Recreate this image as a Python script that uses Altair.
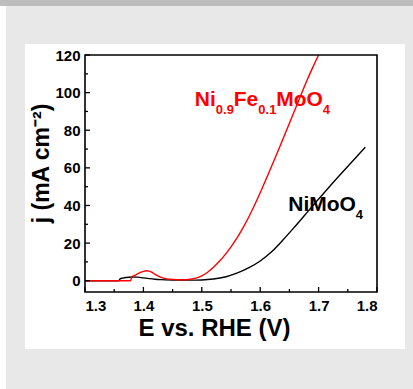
import altair as alt
import pandas as pd

# ---- data ----
E_black = [1.30, 1.358, 1.360, 1.365, 1.37, 1.38, 1.39, 1.40, 1.41, 1.42, 1.43, 1.45, 1.48,
           1.50, 1.52, 1.54, 1.56, 1.58, 1.60, 1.62, 1.64, 1.66, 1.68, 1.70, 1.72, 1.74,
           1.76, 1.78]
j_black = [0, 0, 1.0, 1.4, 1.7, 2.0, 1.9, 1.5, 1.1, 0.8, 0.6, 0.4, 0.3,
           0.4, 0.9, 2.0, 4.0, 6.8, 10.5, 15.5, 22.0, 29.0, 36.2, 43.4, 50.5, 57.4,
           64.2, 71.0]

E_red = [1.30, 1.378, 1.380, 1.385, 1.39, 1.395, 1.40, 1.405, 1.41, 1.415, 1.42, 1.43,
         1.44, 1.45, 1.46, 1.47, 1.48, 1.49, 1.50, 1.51, 1.52, 1.53, 1.54, 1.55, 1.56,
         1.57, 1.58, 1.59, 1.60, 1.61, 1.62, 1.63, 1.64, 1.65, 1.66, 1.67, 1.68, 1.69, 1.70]
j_red = [0, 0, 2.0, 2.8, 3.6, 4.4, 5.0, 5.3, 5.1, 4.4, 3.4, 1.8,
         1.0, 0.7, 0.5, 0.5, 0.8, 1.4, 2.6, 4.5, 7.1, 10.3, 13.9, 18.0, 22.6,
         27.8, 33.6, 40.0, 46.8, 53.9, 61.2, 68.6, 76.1, 83.7, 91.3, 98.9, 106.4, 113.4, 120.0]

x_major = [1.3, 1.4, 1.5, 1.6, 1.7, 1.8]
x_minor = [1.35, 1.45, 1.55, 1.65, 1.75]
y_major = [0, 20, 40, 60, 80, 100, 120]
y_minor = [10, 30, 50, 70, 90, 110]

x_title = "E vs. RHE (V)"
y_title = "j (mA cm\u207b\u00b2)"

# label pieces: (text, font size, dx, dy)
red_label_pos = (1.488, 93.0)
red_pieces = [("Ni", 21, 0, 0), ("0.9", 13, 21, 8), ("Fe", 21, 39, 0),
              ("0.1", 13, 63.5, 8), ("MoO", 21, 81.5, 0), ("4", 13, 128, 8)]
black_label_pos = (1.648, 36.8)
black_pieces = [("NiMoO", 21, 0, 0), ("4", 13, 67.5, 8)]

# ---- layout ----
W, H = 292, 237
PADL, PADT = 85, 55
FONT = "Liberation Sans"

xs = alt.Scale(domain=[1.3, 1.8], nice=False, zero=False)
ys = alt.Scale(domain=[-6, 120], nice=False, zero=False)

x_axis = alt.Axis(values=x_major, format=".1f", title=x_title, ticks=False, domain=False,
                  grid=False, labelFont=FONT, labelFontSize=15, labelFontWeight="bold",
                  labelColor="black", labelPadding=6, titleFont=FONT, titleFontSize=24,
                  titleFontWeight="bold", titleColor="black", titleX=129, titleY=43,
                  titleAlign="center", titleBaseline="alphabetic", zindex=2)
y_axis = alt.Axis(values=y_major, format="d", title=y_title, ticks=False, domain=False,
                  grid=False, labelFont=FONT, labelFontSize=15, labelFontWeight="bold",
                  labelColor="black", labelPadding=5, titleFont=FONT, titleFontSize=23,
                  titleFontWeight="bold", titleColor="black", titleX=-37, titleY=108,
                  titleAngle=270, titleAlign="center", titleBaseline="alphabetic", zindex=2)


def X(field="E"):
    return alt.X(f"{field}:Q", scale=xs, axis=x_axis)


def Y(field="j"):
    return alt.Y(f"{field}:Q", scale=ys, axis=y_axis)


one = alt.Data(values=[{}])

# decorative background panels
bg_top = alt.Chart(one).mark_rect(color="#bdbdbd").encode(
    x=alt.value(-PADL), x2=alt.value(413 - PADL), y=alt.value(-PADT), y2=alt.value(6 - PADT))
bg_left = alt.Chart(one).mark_rect(color="white").encode(
    x=alt.value(-PADL), x2=alt.value(6 - PADL), y=alt.value(6 - PADT), y2=alt.value(389 - PADT))
bg_box = alt.Chart(one).mark_rect(color="white").encode(
    x=alt.value(25 - PADL), x2=alt.value(405 - PADL), y=alt.value(44 - PADT), y2=alt.value(349 - PADT))

frame = alt.Chart(one).mark_rect(filled=False, stroke="black", strokeWidth=1.6).encode(
    x=alt.value(0), x2=alt.value(W), y=alt.value(0), y2=alt.value(H))

df_b = pd.DataFrame({"E": E_black, "j": j_black})
df_r = pd.DataFrame({"E": E_red, "j": j_red})

line_b = alt.Chart(df_b).mark_line(color="black", strokeWidth=1.4, clip=True,
                                   interpolate="monotone").encode(x=X(), y=Y())
line_r = alt.Chart(df_r).mark_line(color="#ff0000", strokeWidth=1.4, clip=True,
                                   interpolate="monotone").encode(x=X(), y=Y())

# inward ticks
xt_major = alt.Chart(pd.DataFrame({"E": x_major})).mark_rule(color="black", strokeWidth=1.3).encode(
    x=X(), y=alt.value(H), y2=alt.value(H - 5))
xt_minor = alt.Chart(pd.DataFrame({"E": x_minor})).mark_rule(color="black", strokeWidth=1.3).encode(
    x=X(), y=alt.value(H), y2=alt.value(H - 3))
yt_major = alt.Chart(pd.DataFrame({"j": y_major})).mark_rule(color="black", strokeWidth=1.3).encode(
    y=Y(), x=alt.value(0), x2=alt.value(5))
yt_minor = alt.Chart(pd.DataFrame({"j": y_minor})).mark_rule(color="black", strokeWidth=1.3).encode(
    y=Y(), x=alt.value(0), x2=alt.value(3))

texts = []
for pieces, pos, col in [(red_pieces, red_label_pos, "#ff0000"), (black_pieces, black_label_pos, "black")]:
    for txt, size, dx, dy in pieces:
        texts.append(
            alt.Chart(pd.DataFrame({"E": [pos[0]], "j": [pos[1]], "t": [txt]})).mark_text(
                font=FONT, fontSize=size, fontWeight="bold", color=col, align="left",
                baseline="alphabetic", dx=dx, dy=dy).encode(x=X(), y=Y(), text="t:N"))

chart = alt.layer(bg_top, bg_left, bg_box, line_b, line_r, xt_major, xt_minor, yt_major, yt_minor,
                  frame, *texts).properties(
    width=W, height=H,
    padding={"left": PADL, "top": PADT, "right": 413 - PADL - W, "bottom": 389 - PADT - H},
    autosize=alt.AutoSizeParams(type="none"),
).configure(background="#e8e8e8").configure_view(stroke=None)

chart.save("out.html", embed_options={"renderer": "svg", "actions": False})
